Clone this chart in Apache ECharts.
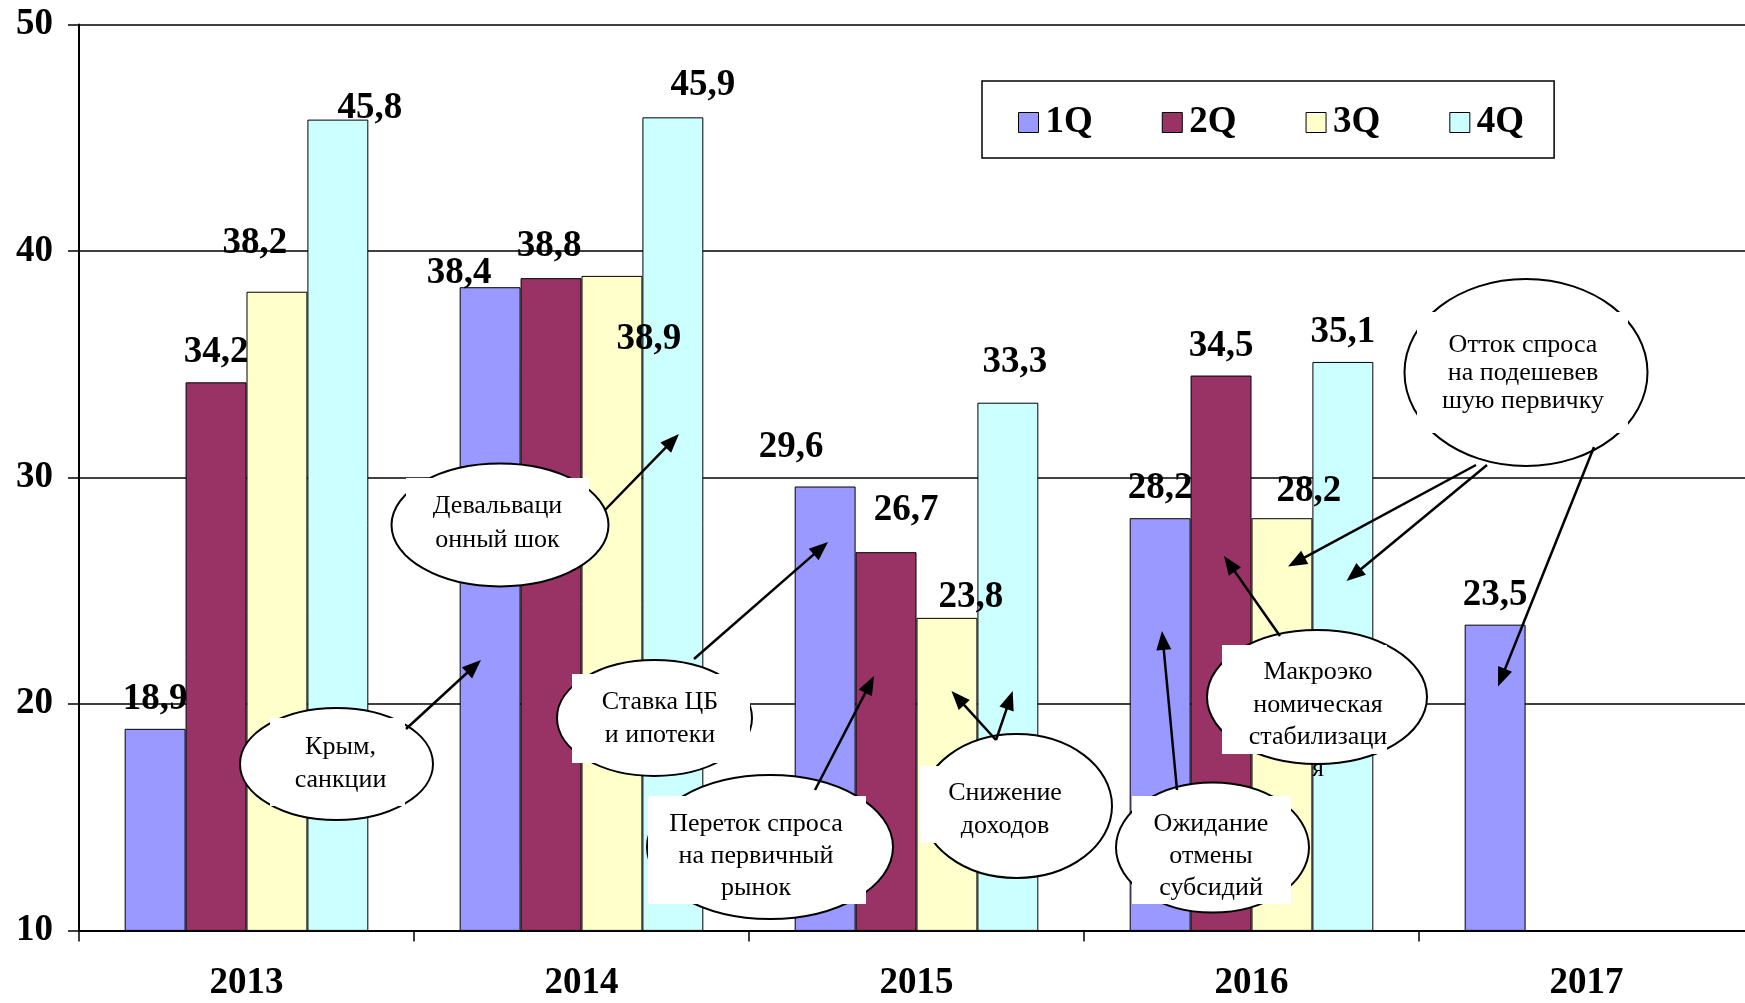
<!DOCTYPE html>
<html>
<head>
<meta charset="utf-8">
<script src="https://cdn.jsdelivr.net/npm/echarts@6/dist/echarts.min.js"></script>
<style>
  html, body { margin: 0; padding: 0; background: #fff; }
  #chart { width: 1745px; height: 1003px; }
</style>
</head>
<body>
<div id="chart"></div>
<script>
// Quarterly values by year
const years = ['2013', '2014', '2015', '2016', '2017'];
const q1 = [18.9, 38.4, 29.6, 28.2, 23.5];
const q2 = [34.2, 38.8, 26.7, 34.5, null];
const q3 = [38.2, 38.9, 23.8, 28.2, null];
const q4 = [45.8, 45.9, 33.3, 35.1, null];
const quarterNames = ['1Q', '2Q', '3Q', '4Q'];
const yMin = 10, yMax = 50, yStep = 10;

// Label nudges (px) so value labels sit clear of neighbours
const labelShift = [
  [[0, 0], [-31, 16], [-34, -10], [0, 0], [0, 0]],
  [[0, 0], [-2, -2], [20, -12], [0, 0], [0, 0]],
  [[-22, -19], [37, 93], [24, 9], [27, 3], [0, 0]],
  [[32, 18], [30, -2], [7, -11], [0, 0], [0, 0]]
];
const colors = ['#9999FF', '#993366', '#FFFFCC', '#CCFFFF'];
const serif = '"Liberation Serif", "Times New Roman", serif';

const quarterValues = [q1, q2, q3, q4];

const series = quarterValues.map((vals, si) => ({
  name: quarterNames[si],
  type: 'bar',
  barGap: '0%',
  barCategoryGap: '27.27%',
  itemStyle: { color: colors[si], borderColor: '#000', borderWidth: 1 },
  label: {
    show: true,
    position: 'top',
    distance: 11,
    fontFamily: serif,
    fontWeight: 'bold',
    fontSize: 37,
    color: '#000',
    formatter: p => String(p.value).replace('.', ',')
  },
  data: vals.map((v, i) => v == null ? null : ({
    value: v,
    label: { offset: labelShift[si][i] }
  }))
}));

// Callout bubbles: ellipse + its white text box + lines of text
const callouts = [
  { cx: 336.5, cy: 764, rx: 96.5, ry: 56, box: [270, 718, 135, 88], lines: ['Крым,', 'санкции'], tx: 340.5, ty: [747, 780] },
  { cx: 500, cy: 525, rx: 108.5, ry: 61.5, box: [406, 478, 183, 77], lines: ['Девальваци', 'онный шок'], tx: 497.5, ty: [506, 540] },
  { cx: 654.5, cy: 718, rx: 97.5, ry: 58, box: [572, 674, 178, 89], lines: ['Ставка ЦБ', 'и ипотеки'], tx: 660, ty: [702, 735] },
  { cx: 770, cy: 847, rx: 123, ry: 72, box: [648, 796, 218, 108], lines: ['Переток спроса', 'на первичный', 'рынок'], tx: 756, ty: [824, 856, 888] },
  { cx: 1016.5, cy: 806, rx: 95.5, ry: 72, box: [920, 766, 170, 77], lines: ['Снижение', 'доходов'], tx: 1005, ty: [793, 826] },
  { cx: 1212.5, cy: 847.5, rx: 96.5, ry: 65, box: [1132, 796, 159, 108], lines: ['Ожидание', 'отмены', 'субсидий'], tx: 1211, ty: [824, 856, 888] },
  { cx: 1317, cy: 697, rx: 110, ry: 67, box: [1222, 645, 165, 109], lines: ['Макроэко', 'номическая', 'стабилизаци'], tx: 1318, ty: [672, 705, 737] },
  { cx: 1526, cy: 372.5, rx: 121.5, ry: 93.5, box: [1417, 312, 211, 121], lines: ['Отток спроса', 'на подешевев', 'шую первичку'], tx: 1523, ty: [345, 373, 401] }
];

const arrows = [
  [406, 729, 481, 660],
  [605, 510, 679, 434],
  [694, 659, 828, 542],
  [815, 790, 874, 676],
  [996, 740, 951.5, 691],
  [996, 740, 1012.7, 691],
  [1177, 790, 1162, 631],
  [1280, 636, 1224, 556],
  [1476, 465, 1288, 566.5],
  [1487, 465, 1346.5, 581],
  [1594, 447, 1498, 686.5]
];

const calloutFont = '26px ' + serif;

function textEl(str, x, y, z) {
  return {
    type: 'text', z: z, silent: true,
    style: {
      text: str, x: x, y: y, font: calloutFont, fill: '#000',
      align: 'center', verticalAlign: 'middle',
      textAlign: 'center', textVerticalAlign: 'middle'
    }
  };
}

const graphics = [];
// overflow letter of the wrapped word, partly hidden by its bubble
graphics.push(textEl('я', 1318, 769, 10));

callouts.forEach(c => {
  graphics.push({
    type: 'ellipse', z: 11, silent: true,
    shape: { cx: c.cx, cy: c.cy, rx: c.rx, ry: c.ry },
    style: { fill: '#fff', stroke: '#000', lineWidth: 2 }
  });
  graphics.push({
    type: 'rect', z: 12, silent: true,
    shape: { x: c.box[0], y: c.box[1], width: c.box[2], height: c.box[3] },
    style: { fill: '#fff' }
  });
  c.lines.forEach((ln, k) => graphics.push(textEl(ln, c.tx, c.ty[k], 13)));
});

arrows.forEach(a => {
  const [x1, y1, x2, y2] = a;
  const dx = x2 - x1, dy = y2 - y1;
  const len = Math.sqrt(dx * dx + dy * dy);
  const ux = dx / len, uy = dy / len;
  const headLen = 19, headHalf = 7.5;
  const bx = x2 - ux * headLen, by = y2 - uy * headLen;
  graphics.push({
    type: 'line', z: 14, silent: true,
    shape: { x1: x1, y1: y1, x2: bx + ux * 2, y2: by + uy * 2 },
    style: { stroke: '#000', lineWidth: 2.5 }
  });
  graphics.push({
    type: 'polygon', z: 14, silent: true,
    shape: { points: [[x2, y2], [bx - uy * headHalf, by + ux * headHalf], [bx + uy * headHalf, by - ux * headHalf]] },
    style: { fill: '#000' }
  });
});

const chart = echarts.init(document.getElementById('chart'), null, { renderer: 'canvas' });
chart.setOption({
  backgroundColor: '#fff',
  animation: false,
  grid: { left: 79, width: 1675, top: 24.5, height: 905.9, containLabel: false, outerBoundsMode: 'none' },
  legend: {
    left: 982, top: 81,
    padding: [23, 30, 17, 36],
    itemWidth: 20, itemHeight: 20, itemGap: 69,
    borderColor: '#000', borderWidth: 1.5,
    icon: 'rect',
    itemStyle: { borderColor: '#000', borderWidth: 1 },
    textStyle: { fontFamily: serif, fontWeight: 'bold', fontSize: 37, color: '#000', padding: [0, 0, 0, 2] },
    data: quarterNames
  },
  xAxis: {
    type: 'category',
    data: years,
    boundaryGap: true,
    axisLine: { lineStyle: { color: '#000', width: 2 } },
    axisTick: { show: true, length: 11, lineStyle: { color: '#000', width: 1.5 } },
    axisLabel: { fontFamily: serif, fontWeight: 'bold', fontSize: 37, color: '#000', margin: 35 }
  },
  yAxis: {
    type: 'value',
    min: yMin, max: yMax, interval: yStep,
    axisLine: { show: true, lineStyle: { color: '#000', width: 2 } },
    axisTick: { show: true, length: 11, lineStyle: { color: '#000', width: 1.5 } },
    splitLine: { show: true, lineStyle: { color: '#000', width: 1.5 } },
    axisLabel: { fontFamily: serif, fontWeight: 'bold', fontSize: 37, color: '#000', margin: 26 }
  },
  series: series,
  graphic: graphics
});
</script>
</body>
</html>
